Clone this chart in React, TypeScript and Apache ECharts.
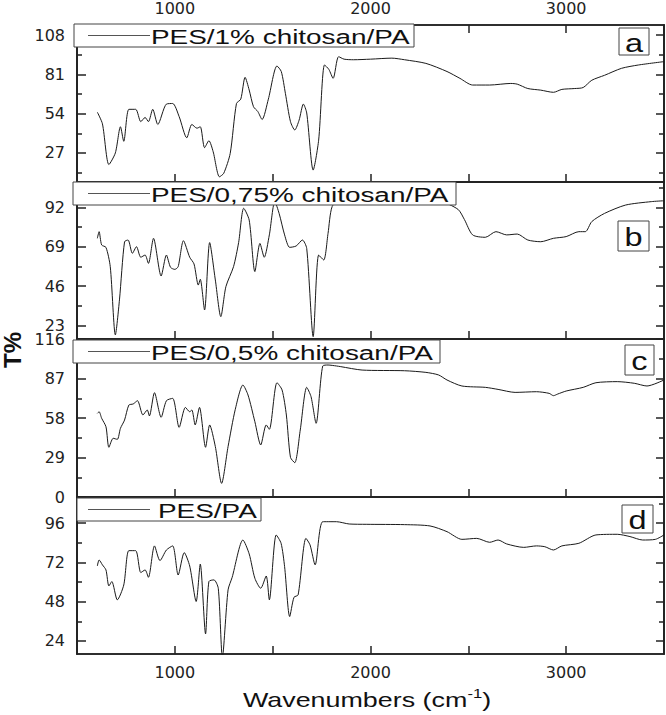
import React, { useEffect, useRef } from "react";
import * as echarts from "echarts";

// Panel a: PES/1% chitosan/PA
const waveA = [604,630,663,696,722,739,765,800,826,848,865,887,913,957,989,1022,1061,1087,1113,1130,1152,1174,1196,1228,1250,1283,1315,1337,1359,1380,1402,1424,1446,1478,1522,1544,1565,1591,1613,1635,1657,1674,1707,1735,1765,1787,1809,1837,1865,1913,2000,2109,2174,2283,2391,2457,2522,2609,2717,2750,2804,2870,2935,2978,3044,3087,3131,3196,3283,3370,3500];
const tA = [55,47,19,27,45,35,57,57,48.5,51.4,48.5,57,46.6,60.6,61,52,37.4,46.6,44,45,30.6,35.4,27.8,10.6,13,26.7,61,64,79,70.3,58.8,55.5,50,64,86.8,83,68,48.5,42.8,49.5,60.6,54.5,15.2,35.8,87.5,84.5,78.3,93.2,91.5,91.1,91.5,92.2,91.1,88.6,83,78.3,73.7,73.7,74.8,74.3,71.3,70.2,68.7,70.7,71.3,72,77,80.4,85.2,87.5,89.8];

// Panel b: PES/0,75% chitosan/PA
const waveB = [604,613,626,648,670,696,717,743,761,783,804,826,848,865,891,930,957,978,1000,1017,1044,1076,1098,1120,1130,1152,1178,1207,1235,1261,1300,1326,1352,1380,1409,1435,1457,1483,1511,1533,1561,1587,1620,1652,1674,1707,1735,1761,1783,1804,1850,2000,2200,2350,2447,2480,2522,2587,2641,2696,2750,2804,2870,2935,3000,3065,3098,3131,3196,3304,3435,3500];
const tB = [74,77.9,70.1,68.7,57.4,17.4,37.9,72,73,65.2,69.1,62.9,64.2,59.3,74,51.9,64.2,57,55.8,57.4,72.6,62.9,59,46.6,50,32,71.5,49.6,28.1,45.7,57.4,71.5,91.6,84.7,54.5,71,62.9,76,95.5,88.6,76,68.7,69.5,73,68.1,16.4,64.2,61.3,76.9,92.6,97,97,97,96,91,85,76,74.6,77.9,76,76.5,73,72,74,75,77.9,77.9,83.8,88.6,93.5,95.5,96];

// Panel c: PES/0,5% chitosan/PA
const waveC = [604,613,626,648,663,685,706,722,743,765,787,809,837,859,870,896,930,957,989,1022,1054,1076,1087,1104,1126,1157,1178,1207,1239,1272,1309,1348,1374,1409,1439,1467,1483,1522,1548,1570,1591,1613,1641,1674,1696,1722,1756,1783,1826,1848,1957,2174,2283,2348,2391,2467,2587,2652,2739,2848,2913,2935,2957,3000,3087,3152,3261,3348,3413,3500];
const tC = [61.4,62.6,57.8,51.6,36.5,43.1,42.3,50.4,56.5,67.5,68.3,70.7,60.2,63.9,59.5,76.6,58.5,70.7,72.4,51.1,65.8,62.6,63.9,52.9,65.8,36.5,52.9,37,10,37,64.4,82.2,74.9,55.3,38.2,52.9,49.7,83.9,78.6,60.2,29.1,25.2,49.2,80.5,73.7,54.1,96.2,96.9,96.2,95.7,93.2,92.7,91.5,89.6,85.9,81.5,80.5,79,76.8,77.3,76.1,74.4,75.6,77.8,80.5,83.9,84.7,83.5,81.5,85.9];

// Panel d: PES/PA
const waveD = [604,613,630,648,663,678,706,739,765,800,826,848,865,896,924,957,989,1017,1048,1076,1109,1130,1157,1174,1200,1222,1243,1272,1293,1348,1380,1409,1439,1467,1483,1518,1543,1561,1587,1609,1630,1670,1691,1717,1756,1826,1891,1978,2174,2304,2391,2467,2543,2609,2652,2696,2783,2848,2891,2935,2978,3065,3152,3261,3326,3391,3456,3500];
const tD = [69.8,73.5,70.5,67.4,57.6,60.3,49.1,58.2,79.2,79.2,65.8,67.4,62.9,82.1,73.1,79.6,82.1,64.3,78,69.8,48.1,71,28.3,60.3,61.3,56.2,14,55.2,62.9,85.7,77.2,62.3,56.2,63.7,49.1,88.8,83.7,69.4,38.9,50.7,52.1,86.7,82.7,70.5,96.9,96.9,95.5,95.3,95.1,94.3,90.8,86.1,86.7,84.3,85.7,83.3,81.2,82.1,81.6,79.6,82.1,83.7,88.8,89.2,87.8,85.7,86.1,88.8];

const xTickValues = [1000, 1500, 2000, 2500, 3000];
const xLabelValues = [1000, 2000, 3000];
const seriesNames = ["PES/1% chitosan/PA", "PES/0,75% chitosan/PA", "PES/0,5% chitosan/PA", "PES/PA"];
const panelLetters = ["a", "b", "c", "d"];
const yMin = [7, 15, 0, 16];
const yMax = [115, 107, 116, 112];
const yMajor = [[27, 54, 81, 108], [23, 46, 69, 92], [0, 29, 58, 87, 116], [24, 48, 72, 96]];
const yMinor = [[13.5, 40.5, 67.5, 94.5], [34.5, 57.5, 80.5, 103.5], [14.5, 43.5, 72.5, 101.5], [36, 60, 84, 108]];
const xTitle = "Wavenumbers (cm";
const xTitleSup = "-1";
const yTitle = "T%";

const waves = [waveA, waveB, waveC, waveD];
const values = [tA, tB, tC, tD];

const gridTops = [25, 182, 339, 497];
const gridHeights = [157, 157, 158, 157];
const legendBoxes = [
  { x: 74, y: 24, w: 340, h: 23, tx: 151 },
  { x: 73, y: 182, w: 383, h: 23, tx: 151 },
  { x: 73, y: 340, w: 367, h: 23, tx: 151 },
  { x: 77, y: 498, w: 184, h: 23, tx: 158 },
];
const letterBoxes = [
  { x: 619, y: 28, w: 30, h: 27 },
  { x: 618, y: 221, w: 31, h: 30 },
  { x: 625, y: 345, w: 29, h: 30 },
  { x: 622, y: 505, w: 31, h: 28 },
];

const AX = "#222";
const TICK_FONT = "DejaVu Sans";
const TEXT_FONT = "Liberation Sans";
const plain = (v: number) => String(v);

export default function App() {
  const ref = useRef<HTMLDivElement>(null);
  useEffect(() => {
    if (!ref.current) return;
    const chart = echarts.init(ref.current, undefined, { renderer: "svg" });

    const grid = gridTops.map((t, i) => ({
      left: 77,
      right: 2,
      top: t,
      height: gridHeights[i],
      show: true,
      borderColor: AX,
      borderWidth: 1.5,
      backgroundColor: "transparent",
    }));

    const xAxis: any[] = [];
    for (let i = 0; i < 4; i++) {
      xAxis.push({
        gridIndex: i,
        type: "value",
        min: 500,
        max: 3500,
        position: "bottom",
        axisLine: { show: true, onZero: false, lineStyle: { color: AX, width: 1.5 } },
        axisTick: { show: true, inside: true, length: 8, customValues: xTickValues, lineStyle: { color: AX, width: 1.5 } },
        axisLabel: i === 3
          ? { show: true, customValues: xLabelValues, formatter: plain, fontSize: 16, fontFamily: TICK_FONT, color: AX, margin: 10 }
          : { show: false },
        splitLine: { show: false },
      });
    }
    xAxis.push({
      gridIndex: 0,
      type: "value",
      min: 500,
      max: 3500,
      position: "top",
      axisLine: { show: true, onZero: false, lineStyle: { color: AX, width: 1.5 } },
      axisTick: { show: true, inside: true, length: 8, customValues: xTickValues, lineStyle: { color: AX, width: 1.5 } },
      axisLabel: { show: true, customValues: xLabelValues, formatter: plain, fontSize: 16, fontFamily: TICK_FONT, color: AX, margin: 9 },
      splitLine: { show: false },
    });

    const yAxis: any[] = [];
    for (let i = 0; i < 4; i++) {
      const base = {
        gridIndex: i,
        type: "value",
        min: yMin[i],
        max: yMax[i],
        splitLine: { show: false },
        axisLine: { show: true, onZero: false, lineStyle: { color: AX, width: 1.5 } },
      };
      yAxis.push({
        ...base,
        position: "left",
        axisTick: { show: true, inside: true, length: 9, customValues: yMajor[i], lineStyle: { color: AX, width: 1.5 } },
        axisLabel: { show: true, customValues: yMajor[i], formatter: plain, fontSize: 16, fontFamily: TICK_FONT, color: AX, margin: 12 },
      });
      yAxis.push({
        ...base,
        position: "left",
        axisTick: { show: true, inside: true, length: 5, customValues: yMinor[i], lineStyle: { color: AX, width: 1.5 } },
        axisLabel: { show: false },
      });
      yAxis.push({
        ...base,
        position: "right",
        axisTick: { show: true, inside: true, length: 8, customValues: yMajor[i], lineStyle: { color: AX, width: 1.5 } },
        axisLabel: { show: false },
      });
      yAxis.push({
        ...base,
        position: "right",
        axisTick: { show: true, inside: true, length: 5, customValues: yMinor[i], lineStyle: { color: AX, width: 1.5 } },
        axisLabel: { show: false },
      });
    }

    const series = waves.map((w, i) => ({
      name: seriesNames[i],
      type: "line",
      xAxisIndex: i,
      yAxisIndex: i * 4,
      data: w.map((x, k) => [x, values[i][k]]),
      showSymbol: false,
      symbol: "none",
      smooth: 0.25,
      clip: true,
      silent: true,
      lineStyle: { color: "#1a1a1a", width: 1 },
    }));

    const graphic: any[] = [];
    legendBoxes.forEach((b, i) => {
      graphic.push({
        type: "rect",
        z: 100,
        shape: { x: b.x, y: b.y, width: b.w, height: b.h },
        style: { fill: "#fff", stroke: "#444", lineWidth: 1 },
      });
      graphic.push({
        type: "line",
        z: 101,
        shape: { x1: 88, y1: b.y + b.h / 2, x2: 150, y2: b.y + b.h / 2 },
        style: { stroke: "#555", lineWidth: 1 },
      });
      graphic.push({
        type: "text",
        z: 101,
        x: b.tx,
        y: b.y + b.h / 2 + 1,
        scaleX: 1.33,
        style: {
          text: seriesNames[i],
          fontSize: 21,
          fontFamily: TEXT_FONT,
          fill: "#111",
          align: "left",
          verticalAlign: "middle",
        },
      });
    });
    letterBoxes.forEach((b, i) => {
      graphic.push({
        type: "rect",
        z: 100,
        shape: { x: b.x, y: b.y, width: b.w, height: b.h },
        style: { fill: "#fff", stroke: "#444", lineWidth: 1 },
      });
      graphic.push({
        type: "text",
        z: 101,
        x: b.x + b.w / 2,
        y: b.y + b.h / 2 + 1,
        scaleX: 1.25,
        style: {
          text: panelLetters[i],
          fontSize: 26,
          fontFamily: TEXT_FONT,
          fill: "#111",
          align: "center",
          verticalAlign: "middle",
        },
      });
    });
    graphic.push({
      type: "text",
      z: 101,
      x: 12,
      y: 350,
      rotation: Math.PI / 2,
      style: {
        text: yTitle,
        fontSize: 24,
        fontWeight: "bold",
        fontFamily: TEXT_FONT,
        fill: "#111",
        align: "center",
        verticalAlign: "middle",
      },
    });
    graphic.push({
      type: "text",
      z: 101,
      x: 367,
      y: 700,
      scaleX: 1.28,
      style: {
        text: "{n|" + xTitle + "}{s|" + xTitleSup + "}{n|)}",
        align: "center",
        verticalAlign: "middle",
        rich: {
          n: { fontSize: 21, fontFamily: TEXT_FONT, fill: "#111", lineHeight: 26 },
          s: { fontSize: 13, fontFamily: TEXT_FONT, fill: "#111", verticalAlign: "top", lineHeight: 26 },
        },
      },
    });

    chart.setOption({
      animation: false,
      backgroundColor: "#fff",
      grid,
      xAxis,
      yAxis,
      series,
      graphic: { elements: graphic },
    });
    return () => chart.dispose();
  }, []);
  return <div ref={ref} style={{ width: 666, height: 715, position: "absolute", left: 0, top: 0 }} />;
}
